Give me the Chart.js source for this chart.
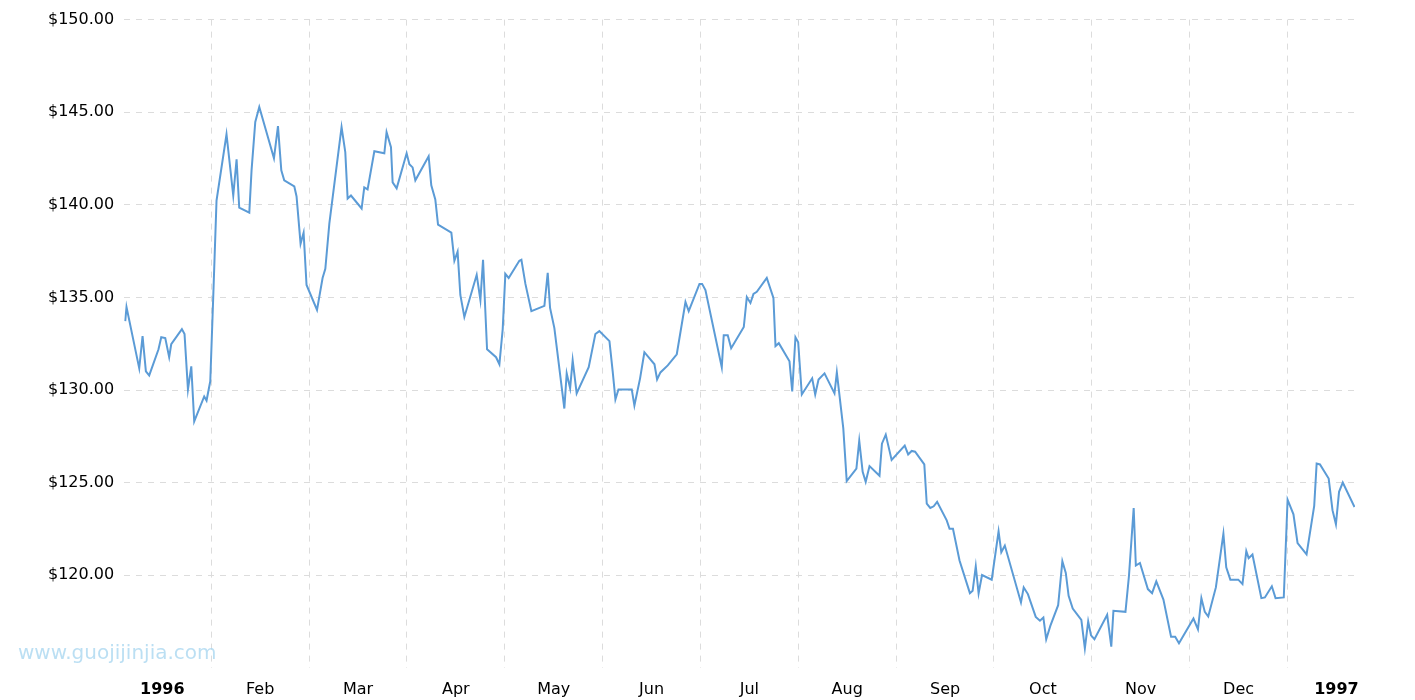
<!DOCTYPE html>
<html>
<head>
<meta charset="utf-8">
<script src="https://cdn.jsdelivr.net/npm/chart.js@4/dist/chart.umd.min.js"></script>
<style>
  html, body { margin: 0; padding: 0; background: #fff; overflow: hidden; }
  #outer { width: 1415px; height: 700px; overflow: hidden; }
  #wrap { width: 1415px; height: 715px; }
</style>
</head>
<body>
<div id="outer"><div id="wrap"><canvas id="priceChart"></canvas></div></div>
<script>
// x position in months from start of 1996 (1 = Feb 1), price in dollars
const monthPos = [
    0.121, 0.134, 0.264, 0.298, 0.332, 0.366, 0.461, 0.489, 0.530, 0.570, 0.591, 0.700, 0.727, 0.762, 0.796, 0.826,
    0.928, 0.952, 0.990, 1.020, 1.054, 1.156, 1.225, 1.259, 1.286, 1.389, 1.412, 1.450, 1.491, 1.641, 1.682, 1.716,
    1.746, 1.849, 1.872, 1.913, 1.944, 1.974, 2.081, 2.138, 2.166, 2.207, 2.332, 2.370, 2.394, 2.428, 2.537, 2.564,
    2.598, 2.667, 2.769, 2.792, 2.837, 2.854, 2.895, 2.997, 3.025, 3.058, 3.086, 3.222, 3.249, 3.290, 3.318, 3.454,
    3.485, 3.518, 3.546, 3.587, 3.713, 3.751, 3.778, 3.819, 3.911, 3.945, 3.979, 4.006, 4.040, 4.149, 4.170, 4.211,
    4.272, 4.405, 4.439, 4.463, 4.507, 4.609, 4.633, 4.668, 4.694, 4.735, 4.858, 4.926, 4.967, 5.070, 5.103, 5.131,
    5.162, 5.298, 5.325, 5.383, 5.427, 5.530, 5.557, 5.591, 5.666, 5.758, 5.847, 5.880, 5.990, 6.017, 6.051, 6.218,
    6.238, 6.279, 6.314, 6.443, 6.474, 6.511, 6.542, 6.576, 6.678, 6.746, 6.767, 6.801, 6.910, 6.938, 6.971, 6.999,
    7.036, 7.142, 7.173, 7.207, 7.268, 7.370, 7.394, 7.460, 7.495, 7.594, 7.623, 7.658, 7.689, 7.728, 7.830, 7.855,
    7.894, 7.954, 8.088, 8.123, 8.159, 8.194, 8.288, 8.313, 8.349, 8.384, 8.419, 8.517, 8.546, 8.581, 8.648, 8.754,
    8.782, 8.814, 8.843, 8.878, 8.977, 9.047, 9.075, 9.111, 9.276, 9.304, 9.347, 9.427, 9.470, 9.505, 9.534, 9.576,
    9.656, 9.699, 9.734, 9.763, 9.805, 9.893, 9.929, 9.963, 9.992, 10.027, 10.157, 10.199, 10.221, 10.344, 10.380, 10.428,
    10.450, 10.492, 10.573, 10.616, 10.659, 10.732, 10.810, 10.852, 10.891, 11.039, 11.085, 11.120, 11.155, 11.190, 11.268, 11.345,
    11.374, 11.416, 11.497, 11.540, 11.579, 11.603, 11.642, 11.733, 11.769, 11.840, 11.878, 11.962, 12.001, 12.061, 12.103, 12.195,
    12.273, 12.298, 12.332, 12.421, 12.460, 12.495, 12.527, 12.565, 12.685
];
const prices = [
    133.72, 134.48, 131.17, 132.91, 131.01, 130.79, 132.20, 132.85, 132.80, 131.77, 132.47, 133.29, 133.02, 130.03, 131.28, 128.30,
    129.65, 129.43, 130.47, 134.97, 140.23, 143.81, 140.50, 142.46, 139.85, 139.58, 141.86, 144.47, 145.28, 142.51, 144.25, 141.86,
    141.32, 140.99, 140.45, 137.90, 138.50, 135.67, 134.32, 136.05, 136.54, 138.98, 144.19, 142.84, 140.34, 140.50, 139.80, 140.94,
    140.83, 142.89, 142.78, 143.92, 143.11, 141.21, 140.89, 142.78, 142.19, 142.02, 141.32, 142.62, 141.05, 140.29, 138.93, 138.50,
    136.98, 137.47, 135.13, 133.94, 136.22, 134.86, 137.03, 132.20, 131.77, 131.39, 133.29, 136.27, 136.05, 136.98, 137.03, 135.73,
    134.26, 134.54, 136.33, 134.43, 133.34, 129.00, 130.90, 130.09, 131.61, 129.82, 131.23, 133.02, 133.18, 132.64, 131.01, 129.49,
    130.03, 130.03, 129.16, 130.63, 132.04, 131.39, 130.57, 130.95, 131.33, 131.93, 134.75, 134.26, 135.73, 135.73, 135.40, 131.23,
    132.96, 132.96, 132.26, 133.40, 135.02, 134.70, 135.19, 135.30, 136.05, 134.97, 132.37, 132.53, 131.55, 129.92, 132.85, 132.58,
    129.76, 130.63, 129.76, 130.57, 130.90, 129.82, 130.95, 127.93, 125.08, 125.76, 127.26, 125.58, 125.04, 125.89, 125.37, 127.10,
    127.59, 126.22, 127.00, 126.52, 126.71, 126.67, 125.98, 123.86, 123.63, 123.72, 123.96, 122.96, 122.51, 122.51, 120.79, 119.03,
    119.16, 120.48, 119.02, 120.01, 119.76, 122.37, 121.24, 121.60, 118.53, 119.34, 118.98, 117.75, 117.54, 117.71, 116.54, 117.26,
    118.38, 120.75, 120.12, 118.89, 118.20, 117.59, 116.05, 117.50, 116.75, 116.54, 117.86, 116.14, 118.08, 118.02, 119.98, 123.63,
    120.52, 120.66, 119.25, 119.03, 119.67, 118.68, 116.68, 116.68, 116.32, 117.66, 117.08, 118.76, 118.02, 117.77, 119.34, 122.24,
    120.43, 119.76, 119.76, 119.52, 121.30, 120.92, 121.12, 118.76, 118.80, 119.40, 118.76, 118.80, 124.08, 123.29, 121.73, 121.12,
    123.74, 126.03, 125.98, 125.22, 123.51, 122.75, 124.50, 125.00, 123.68
];
// month labels sit mid-month, grid lines sit on month boundaries
const monthLabels = ['1996', 'Feb', 'Mar', 'Apr', 'May', 'Jun', 'Jul', 'Aug', 'Sep', 'Oct', 'Nov', 'Dec', '1997'];
const monthBounds = [1, 2, 3, 4, 5, 6, 7, 8, 9, 10, 11, 12];

const watermark = {
    id: 'watermark',
    afterDraw(chart) {
        const c = chart.ctx;
        c.save();
        c.font = '20px "DejaVu Sans"';
        c.fillStyle = 'rgba(170, 215, 240, 0.8)';
        c.textBaseline = 'middle';
        c.fillText('www.guojijinjia.com', 18, 654);
        c.restore();
    }
};

const ctx = document.getElementById('priceChart').getContext('2d');
new Chart(ctx, {
    type: 'line',
    data: {
        datasets: [{
            data: monthPos.map((m, i) => ({ x: m, y: prices[i] })),
            borderColor: '#5b9bd6',
            borderWidth: 2,
            pointRadius: 0,
            tension: 0,
            fill: false
        }]
    },
    plugins: [watermark],
    options: {
        responsive: true,
        maintainAspectRatio: false,
        animation: false,
        layout: { padding: { left: 38, right: 60, top: 14, bottom: 4 } },
        plugins: { legend: { display: false }, tooltip: { enabled: false } },
        scales: {
            x: {
                type: 'linear',
                min: 0.11,
                max: 12.69,
                afterBuildTicks(axis) {
                    const t = [];
                    monthLabels.forEach((l, i) => {
                        t.push({ value: i + 0.5 });
                        if (monthBounds[i] !== undefined) t.push({ value: monthBounds[i] });
                    });
                    axis.ticks = t;
                },
                grid: {
                    color: c => (c.tick && Number.isInteger(c.tick.value)) ? '#dcdcdc' : 'rgba(0,0,0,0)',
                    drawTicks: false
                },
                border: { display: false, dash: [6, 6] },
                ticks: {
                    autoSkip: false,
                    maxRotation: 0,
                    padding: 12,
                    color: '#000',
                    font: c => ({
                        family: 'DejaVu Sans',
                        size: 16,
                        weight: (c.tick && (c.tick.value === 0.5 || c.tick.value === 12.5)) ? 'bold' : 'normal'
                    }),
                    callback: v => Number.isInteger(v) ? '' : monthLabels[Math.floor(v)]
                }
            },
            y: {
                min: 115,
                max: 150,
                afterBuildTicks(axis) {
                    axis.ticks = [120, 125, 130, 135, 140, 145, 150].map(v => ({ value: v }));
                },
                grid: { color: '#dcdcdc', drawTicks: false },
                border: { display: false, dash: [6, 6] },
                ticks: {
                    padding: 10,
                    color: '#000',
                    font: { family: 'DejaVu Sans', size: 16 },
                    callback: v => '$' + v.toFixed(2)
                }
            }
        }
    }
});
</script>
</body>
</html>
